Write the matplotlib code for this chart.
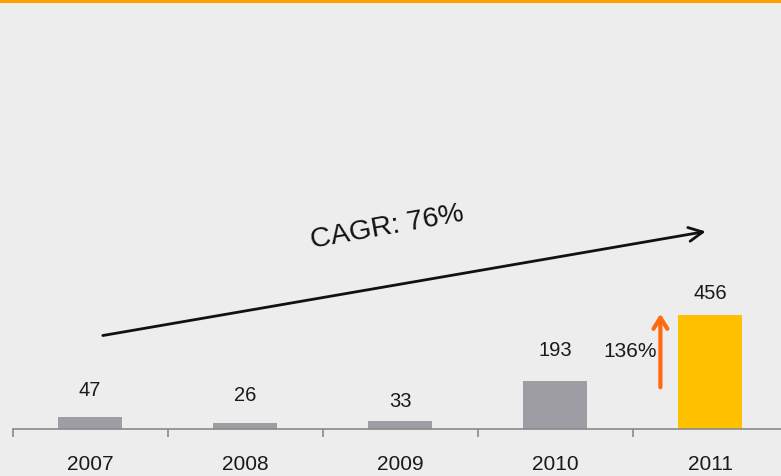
import matplotlib

matplotlib.use("Agg")
import matplotlib.pyplot as plt
from matplotlib.patches import Rectangle

plt.rcParams["font.family"] = ["Liberation Sans", "DejaVu Sans"]

# data
years = ["2007", "2008", "2009", "2010", "2011"]
values = [47, 26, 33, 193, 456]
label_offsets = [13, 13, 8, 16, 9]  # points above the bar top
cagr_text = "CAGR: 76%"
yoy_text = "136%"

GRAY = "#9e9da4"
GOLD = "#ffc000"
bar_colors = [GRAY, GRAY, GRAY, GRAY, GOLD]

fig = plt.figure(figsize=(7.81, 4.77), dpi=100, facecolor="#ededed")
ax = fig.add_axes([12.5 / 781, 47 / 477, 775 / 781, 420 / 477])
ax.set_facecolor("none")

x = range(len(years))
bars = ax.bar(x, values, width=0.41, color=bar_colors)
for b, v, off in zip(bars, values, label_offsets):
    ax.annotate(str(v), (b.get_x() + b.get_width() / 2, v), xytext=(0, off),
                textcoords="offset points", ha="center", va="bottom",
                fontsize=14.5, color="#1a1a1a")

ax.set_xlim(-0.5, len(years) - 0.5)
ax.set_ylim(0, 1680)
for side in ("top", "left", "right"):
    ax.spines[side].set_visible(False)
ax.spines["bottom"].set_color("#8a8a8a")
ax.spines["bottom"].set_linewidth(1.2)
ax.set_yticks([])
ax.set_xticks(list(x))
ax.set_xticklabels(years, fontsize=15, color="#1a1a1a")
ax.tick_params(axis="x", which="major", length=0, pad=18)
ax.set_xticks([i - 0.5 for i in x], minor=True)
ax.tick_params(axis="x", which="minor", length=6, width=1.2, color="#8a8a8a")

# CAGR trend arrow
ax.annotate("", xy=(3.99, 792), xytext=(0.065, 372),
            arrowprops=dict(arrowstyle="->,head_length=1.0,head_width=0.5",
                            color="#111111", lw=2))
ax.text(1.92, 810, cagr_text, rotation=10.2, ha="center", va="center",
        fontsize=20.5, color="#111111")

# year-on-year growth arrow
ax.annotate("", xy=(3.68, 472), xytext=(3.68, 156),
            arrowprops=dict(arrowstyle="->,head_length=0.8,head_width=0.5",
                            color="#ff6a10", lw=3))
ax.text(3.655, 312, yoy_text, ha="right", va="center", fontsize=15,
        color="#1a1a1a")

# orange band along the top edge
fig.add_artist(Rectangle((0, 1 - 3.7 / 477), 1, 3.7 / 477,
                         transform=fig.transFigure, color="#ff9e00", lw=0))

fig.savefig("out.png", dpi=100, facecolor=fig.get_facecolor())
